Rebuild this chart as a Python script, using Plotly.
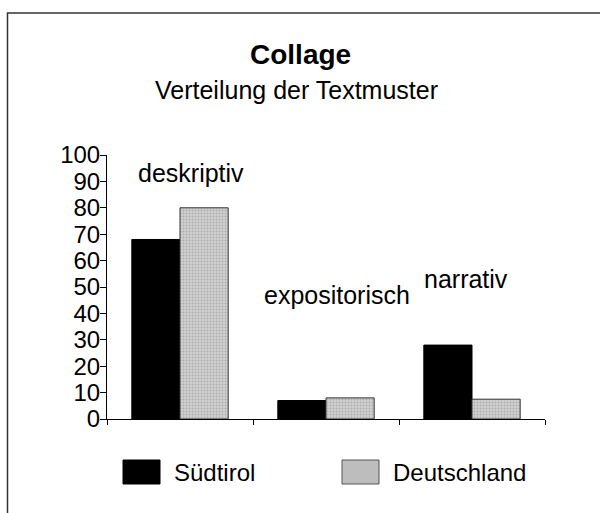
import plotly.graph_objects as go

categories = ["deskriptiv", "expositorisch", "narrativ"]
suedtirol = [68, 7, 28]
deutschland = [80, 8, 7.5]
series_names = ["Südtirol", "Deutschland"]
title_text = "Collage"
subtitle_text = "Verteilung der Textmuster"
y_ticks = list(range(0, 101, 10))

FONT = "Arial, Liberation Sans, sans-serif"
W, H = 600, 513
L, R, T, B = 107, 55, 155, 94
PW, PH = W - L - R, H - T - B

def px(x):
    return (x - L) / PW

def py(y):
    return (H - B - y) / PH

fig = go.Figure()
fig.add_trace(go.Bar(
    x=categories, y=suedtirol, name=series_names[0],
    marker=dict(color="black", line=dict(color="black", width=1)),
    showlegend=False,
))
fig.add_trace(go.Bar(
    x=categories, y=deutschland, name=series_names[1],
    marker=dict(color="#c4c4c4", line=dict(color="#333", width=1),
                pattern=dict(shape=".", fgcolor="#8a8a8a", bgcolor="#d0d0d0",
                             size=3, solidity=0.35)),
    showlegend=False,
))

# category labels above groups
label_pos = [(93, 11), (47, 11), (53, -6)]
for cat, (yy, xs) in zip(categories, label_pos):
    fig.add_annotation(x=cat, y=yy, text=cat, showarrow=False, xshift=xs,
                       xanchor="center", yanchor="middle",
                       font=dict(family=FONT, size=25, color="black"))

# titles
fig.add_annotation(x=px(300), y=py(55), xref="paper", yref="paper", text="<b>" + title_text + "</b>",
                   showarrow=False, xanchor="center", yanchor="middle",
                   font=dict(family=FONT, size=28, color="black"))
fig.add_annotation(x=px(296), y=py(90), xref="paper", yref="paper", text=subtitle_text,
                   showarrow=False, xanchor="center", yanchor="middle",
                   font=dict(family=FONT, size=25, color="black"))

# frame
fig.add_shape(type="rect", xref="paper", yref="paper",
              x0=px(7.5), x1=px(640), y0=py(13), y1=py(560),
              line=dict(color="#333", width=1.5), fillcolor="rgba(0,0,0,0)", layer="below")

# legend (custom)
legend_items = [(123, 160, "black", "black"), (342, 379, "#bdbdbd", "#555")]
for name, (x0, x1, fc, lc) in zip(series_names, legend_items):
    fig.add_shape(type="rect", xref="paper", yref="paper",
                  x0=px(x0), x1=px(x1), y0=py(484), y1=py(460),
                  fillcolor=fc, line=dict(color=lc, width=1))
    fig.add_annotation(x=px(x1 + 12), y=py(472), xref="paper", yref="paper", text=name,
                       xanchor="left", yanchor="middle", showarrow=False,
                       font=dict(family=FONT, size=24, color="black"))

fig.update_layout(
    width=W, height=H,
    margin=dict(l=L, r=R, t=T, b=B),
    paper_bgcolor="white", plot_bgcolor="white",
    barmode="group", bargap=0.34, bargroupgap=0,
    font=dict(family=FONT, size=23, color="black"),
)
fig.update_xaxes(showticklabels=False, showline=True, linecolor="black", linewidth=1,
                 ticks="outside", tickson="boundaries", ticklen=5, tickcolor="black",
                 showgrid=False, zeroline=False)
fig.update_yaxes(range=[0, 100], tickvals=y_ticks, showline=True, linecolor="black", linewidth=1,
                 ticks="outside", ticklen=6, tickcolor="black", showgrid=False, zeroline=False,
                 tickfont=dict(family=FONT, size=24, color="black"), ticklabelstandoff=-5)

fig.write_html("out.html", config={"displayModeBar": False},
               post_script="document.body.style.margin='0';")
